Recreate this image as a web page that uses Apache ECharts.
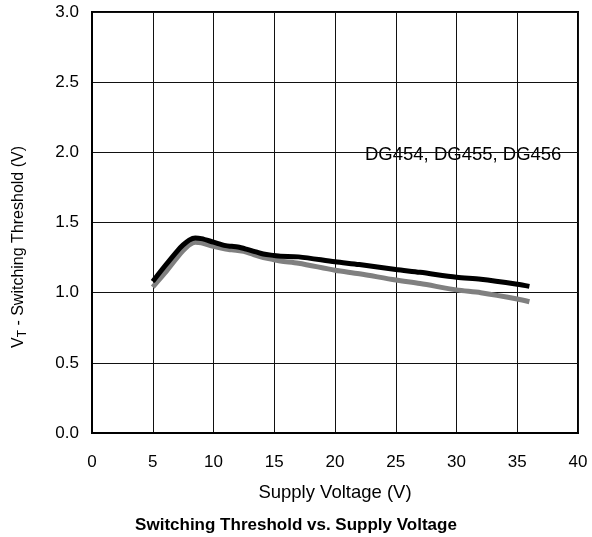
<!DOCTYPE html>
<html><head><meta charset="utf-8">
<script src="https://cdn.jsdelivr.net/npm/echarts@6/dist/echarts.min.js"></script>
<style>html,body{margin:0;padding:0;background:#fff}#c{width:592px;height:537px}</style>
</head><body><div id="c"></div>
<script>
var xTicks = [0,5,10,15,20,25,30,35,40];
var yTicks = [0.0,0.5,1.0,1.5,2.0,2.5,3.0];
var seriesBlackX = [5,6,7,7.5,8,8.5,9,10,11,11.5,12,12.7,13.5,14.1,15,15.5,17,20,22,25,27,30,32,35,36];
var seriesBlackY = [1.08,1.19,1.295,1.34,1.375,1.39,1.385,1.36,1.335,1.33,1.325,1.31,1.29,1.275,1.265,1.26,1.255,1.22,1.2,1.165,1.145,1.11,1.095,1.06,1.045];
var seriesGrayX = [5,6,7,7.5,8,8.5,9,10,11,11.5,12,12.7,13.5,14.1,15,15.5,17,20,22,25,27,30,32,35,36];
var seriesGrayY = [1.04,1.14,1.25,1.30,1.34,1.36,1.355,1.33,1.31,1.305,1.30,1.29,1.265,1.25,1.235,1.225,1.21,1.16,1.135,1.09,1.065,1.02,1.0,0.955,0.935];
var label = "DG454, DG455, DG456";

function pairs(xs, ys){ return xs.map(function(x,i){return [x, ys[i]];}); }

var FF = 'Liberation Sans, Arial, sans-serif';
var chart = echarts.init(document.getElementById('c'));
chart.setOption({
  animation:false,
  textStyle:{fontFamily:FF},
  title:{text:'Switching Threshold vs. Supply Voltage', left:'center', top:512,
    textStyle:{fontSize:17, fontWeight:'bold', color:'#000', fontFamily:FF}},
  grid:{left:92, right:14, top:12, bottom:104, show:true, borderColor:'#000', borderWidth:2, backgroundColor:'transparent'},
  xAxis:{type:'value', min:0, max:40, interval:5,
    name:'Supply Voltage (V)', nameLocation:'middle', nameGap:50,
    nameTextStyle:{fontSize:18.5, color:'#000', fontFamily:FF},
    axisLine:{show:true, lineStyle:{color:'#000', width:2}},
    axisTick:{show:false},
    axisLabel:{fontSize:17, color:'#000', margin:21, fontFamily:FF},
    splitLine:{show:true, lineStyle:{color:'#111', width:1}}},
  yAxis:{type:'value', min:0, max:3, interval:0.5,
    axisLine:{show:true, lineStyle:{color:'#000', width:2}},
    axisTick:{show:false},
    axisLabel:{fontSize:17, color:'#000', margin:13, fontFamily:FF, formatter:function(v){return v.toFixed(1);}},
    splitLine:{show:true, lineStyle:{color:'#111', width:1}}},
  graphic:[
    {type:'text', left:365, top:145, style:{text:label, fontSize:18.5, fill:'#000', fontFamily:FF}},
    {type:'text', x:19, y:247, rotation:Math.PI/2,
      style:{text:'{a|V}{s|T}{a| - Switching Threshold (V)}', align:'center', verticalAlign:'middle',
        rich:{a:{fontSize:16, fill:'#000', fontFamily:FF}, s:{fontSize:12, fill:'#000', fontFamily:FF, padding:[7,0,0,0]}}}}
  ],
  series:[
    {type:'line', data:pairs(seriesGrayX, seriesGrayY), showSymbol:false, smooth:0.3,
      lineStyle:{color:'#808080', width:5}, z:3},
    {type:'line', data:pairs(seriesBlackX, seriesBlackY), showSymbol:false, smooth:0.3,
      lineStyle:{color:'#000', width:5}, z:4}
  ]
});
</script></body></html>
